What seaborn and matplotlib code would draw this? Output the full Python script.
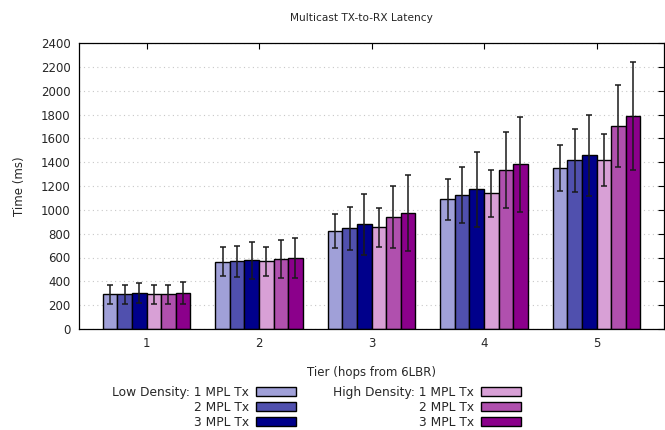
import pandas as pd
import numpy as np
import matplotlib.pyplot as plt
import seaborn as sns
from matplotlib.patches import Patch

# =========================
# data
tiers = ["1", "2", "3", "4", "5"]
series = ["Low Density: 1 MPL Tx", "Low 2 MPL Tx", "Low 3 MPL Tx",
          "High Density: 1 MPL Tx", "High 2 MPL Tx", "High 3 MPL Tx"]
legend_labels = ["Low Density: 1 MPL Tx", "2 MPL Tx", "3 MPL Tx",
                 "High Density: 1 MPL Tx", "2 MPL Tx", "3 MPL Tx"]

low1 = [291, 565, 822, 1088, 1348]
low2 = [290, 570, 845, 1127, 1415]
low3 = [300, 575, 878, 1172, 1457]
high1 = [290, 568, 853, 1138, 1415]
high2 = [292, 587, 940, 1334, 1706]
high3 = [302, 596, 976, 1382, 1784]

low1_err = [78, 120, 145, 170, 192]
low2_err = [80, 130, 180, 235, 263]
low3_err = [85, 158, 255, 312, 343]
high1_err = [78, 122, 165, 195, 218]
high2_err = [80, 160, 260, 315, 343]
high3_err = [95, 165, 318, 400, 453]

colors = ["#a0a0d8", "#5050ae", "#00008b", "#d8a0d6", "#b050ae", "#8b008b"]

means = [low1, low2, low3, high1, high2, high3]
errs = [low1_err, low2_err, low3_err, high1_err, high2_err, high3_err]

rows = []
for s, m, e in zip(series, means, errs):
    for t, v, ev in zip(tiers, m, e):
        rows.append({"Tier": t, "Series": s, "Time": v, "Err": ev})
df = pd.DataFrame(rows)

# =========================
# plot
sns.set_style("white")
plt.rcParams["font.family"] = ["DejaVu Sans"]
plt.rcParams["font.size"] = 8.5

fig = plt.figure(figsize=(6.65, 4.30), dpi=100)
ax = fig.add_axes([79 / 665, 1 - 329 / 430, 585 / 665, 286 / 430])

sns.barplot(data=df, x="Tier", y="Time", hue="Series", order=tiers,
            hue_order=series, palette=colors, width=0.775, gap=0,
            edgecolor="black", linewidth=1.0, errorbar=None, legend=False,
            saturation=1, ax=ax)

# error bars on top of each bar
for cont, s in zip(ax.containers, series):
    sub = df[df["Series"] == s].set_index("Tier").loc[tiers]
    xs = [b.get_x() + b.get_width() / 2 for b in cont]
    ax.errorbar(xs, sub["Time"].values, yerr=sub["Err"].values, fmt="none",
                ecolor="#1a1a1a", elinewidth=1.1, capsize=2.5, capthick=1.1,
                zorder=5)

ax.set_ylim(0, 2400)
ax.set_xlim(-0.6, 4.6)
ax.set_yticks(np.arange(0, 2401, 200))
ax.yaxis.grid(True, color="#c8c8c8", linestyle=(0, (1, 3)), linewidth=0.8)
ax.set_axisbelow(True)
ax.tick_params(direction="in", top=True, right=True, length=4, width=0.8,
               labelsize=8.5, color="black", pad=6)
for sp in ax.spines.values():
    sp.set_color("black")
    sp.set_linewidth(0.9)

ax.set_xlabel("Tier (hops from 6LBR)", fontsize=8.5, labelpad=11)
ax.set_ylabel("Time (ms)", fontsize=8.5, labelpad=11)
fig.text(361 / 665, 1 - 18 / 430, "Multicast TX-to-RX Latency",
         ha="center", va="center", fontsize=7.6)

# legend in two right-aligned blocks
handles = [Patch(facecolor=c, edgecolor="black", linewidth=1.0) for c in colors]
for k, xr in [(0, 296), (3, 521)]:
    fig.legend(handles[k:k + 3], legend_labels[k:k + 3], loc="upper right",
               bbox_to_anchor=(xr / 665, 1 - 386 / 430), frameon=False,
               markerfirst=False, fontsize=8.8, handlelength=3.3,
               handleheight=0.7, handletextpad=0.55, labelspacing=0.15,
               borderpad=0, borderaxespad=0)

fig.savefig("out.png", dpi=100)
